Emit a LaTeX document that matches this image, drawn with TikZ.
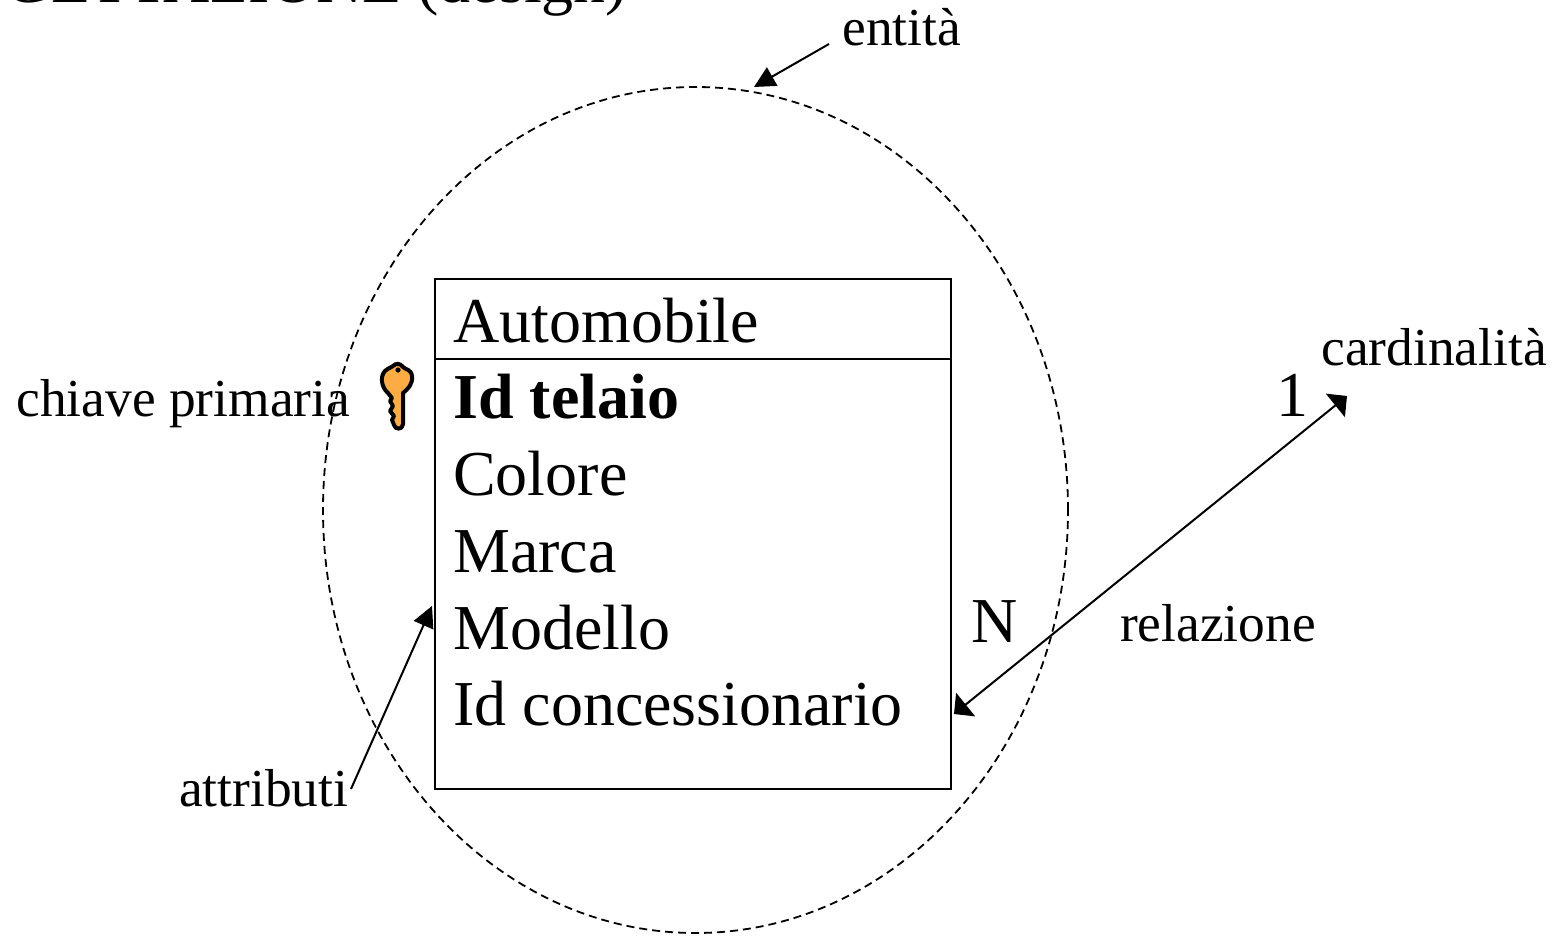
\documentclass[tikz,border=0pt]{standalone}
\usepackage{fontspec}
\setmainfont{Liberation Serif}
\usetikzlibrary{arrows.meta,shapes.geometric}
\definecolor{keyorange}{RGB}{252,172,66}
\tikzset{
  big/.style={anchor=base west,inner sep=0pt,outer sep=0pt,font=\fontsize{64}{70}\selectfont},
  small/.style={anchor=base west,inner sep=0pt,outer sep=0pt,font=\fontsize{53.4}{60}\selectfont},
  pointer/.style={line width=2pt,-{Triangle[length=21pt,width=21pt]}},
  both/.style={line width=2pt,{Triangle[length=15pt,width=30pt]}-{Triangle[length=15pt,width=30pt]}},
}
\begin{document}
\begin{tikzpicture}[x=1pt,y=-1pt]
\useasboundingbox (0,0) rectangle (1555,936);
\clip (0,0) rectangle (1555,936);
\node[big] (title) at (5,2.5) {GETTAZIONE (design)};
% entity ellipse and table
\node[draw,dash pattern=on 8pt off 5pt,line width=1.8pt,ellipse,minimum width=745pt,minimum height=846pt,inner sep=0pt] (ent) at (695.5,510) {};
\node[draw,line width=2pt,minimum width=516pt,minimum height=510pt,inner sep=0pt] (tab) at (693,534) {};
\coordinate (sepL) at (435,359);
\coordinate (sepR) at (951,359);
\draw[line width=2pt] (sepL) -- (sepR);
\node[big] (a0) at (453.3,342) {Automobile};
\node[big,font=\fontsize{64}{70}\selectfont\bfseries] (a1) at (453.3,418) {Id telaio};
\node[big] (a2) at (453.3,495) {Colore};
\node[big] (a3) at (453.3,572) {Marca};
\node[big] (a4) at (453.3,649) {Modello};
\node[big] (a5) at (453.3,725) {Id concessionario};
% labels
\node[small] (lent) at (842.5,46) {entità};
\node[small] (lpk) at (16.5,416) {chiave primaria};
\node[small] (lat) at (179,806) {attributi};
\node[small] (lrel) at (1120,641) {relazione};
\node[small] (lcard) at (1321.5,365) {cardinalità};
\node[big] (one) at (1276,416) {1};
\node[big] (enne) at (971.5,642) {N};
% connectors
\coordinate (e1) at (829,44);
\coordinate (e2) at (754,87);
\draw[pointer] (e1) -- (e2);
\coordinate (t1) at (351,789);
\coordinate (t2) at (432,606);
\draw[pointer] (t1) -- (t2);
\coordinate (r1) at (954,714);
\coordinate (r2) at (1347,396);
\draw[both] (r1) -- (r2);
% key
\draw[line width=4pt,fill=keyorange,line join=round]
  (388,393) .. controls (381,387) and (380,376) .. (385,371)
  .. controls (388,368) and (391,368) .. (393,366)
  .. controls (396,363) and (400,363) .. (403,367)
  .. controls (406,370) and (411,369) .. (412,376)
  .. controls (413,384) and (408,389) .. (403,393)
  -- (403,424) .. controls (403,430) and (395,430) .. (394,425)
  -- (392,420) -- (394,416) -- (390,411) -- (393,406) -- (390,401) -- (392,398) -- cycle;
\fill (398,370) circle (2.6pt);
\end{tikzpicture}
\end{document}
